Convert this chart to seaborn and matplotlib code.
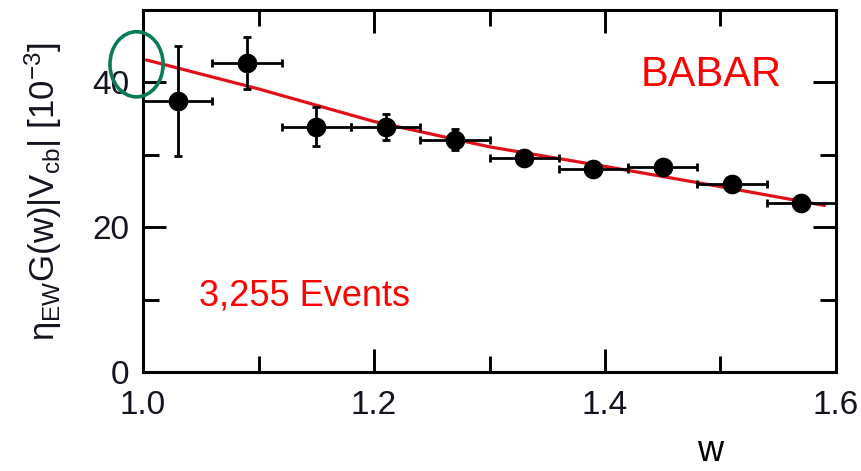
import matplotlib
matplotlib.use("Agg")
import matplotlib.pyplot as plt
from matplotlib.patches import Ellipse
from matplotlib.ticker import MultipleLocator
import seaborn as sns
import pandas as pd

# Measured points: bin centres in w, values and uncertainties
w_centers = [1.03, 1.09, 1.15, 1.21, 1.27, 1.33, 1.39, 1.45, 1.51, 1.57]
w_halfwidth = [0.03, 0.03, 0.03, 0.03, 0.03, 0.03, 0.03, 0.03, 0.03, 0.03]
g_values = [37.4, 42.7, 33.9, 33.9, 32.1, 29.5, 28.1, 28.3, 26.0, 23.4]
g_errors = [7.6, 3.6, 2.7, 1.8, 1.5, 0.9, 0.8, 0.8, 0.8, 0.7]

# Fitted form-factor curve
fit_w = [1.003, 1.1, 1.2, 1.3, 1.4, 1.5, 1.59]
fit_g = [43.1, 39.1, 34.6, 31.1, 28.4, 25.6, 23.0]

x_ticks = [1.0, 1.2, 1.4, 1.6]
x_tick_labels = ["1.0", "1.2", "1.4", "1.6"]
y_ticks = [0, 20, 40]
y_tick_labels = ["0", "20", "40"]

sns.set_theme(style="ticks")
plt.rcParams["font.family"] = ["Liberation Sans", "DejaVu Sans"]
plt.rcParams["mathtext.fontset"] = "custom"
plt.rcParams["mathtext.rm"] = "Liberation Sans"
plt.rcParams["mathtext.it"] = "Liberation Sans"
plt.rcParams["mathtext.bf"] = "Liberation Sans:bold"

data = pd.DataFrame({"w": w_centers, "g": g_values})
fit = pd.DataFrame({"w": fit_w, "g": fit_g})

fig = plt.figure(figsize=(8.62, 4.71), dpi=100)
ax = fig.add_axes([143 / 862, 99 / 471, 693 / 862, 362 / 471])

sns.lineplot(data=fit, x="w", y="g", ax=ax, color="#e0101a", lw=2.3,
             zorder=2, sort=False)
ax.errorbar(w_centers, g_values, xerr=w_halfwidth, yerr=g_errors, fmt="none",
            ecolor="black", elinewidth=2.0, capsize=3, capthick=2.0, zorder=3)
sns.scatterplot(data=data, x="w", y="g", ax=ax, color="black", s=200,
                edgecolor="black", linewidth=0, zorder=4)

ax.set_xlim(1.0, 1.6)
ax.set_ylim(0, 50)
ax.set_xticks(x_ticks)
ax.set_xticklabels(x_tick_labels)
ax.set_yticks(y_ticks)
ax.set_yticklabels(y_tick_labels)
ax.xaxis.set_minor_locator(MultipleLocator(0.1))
ax.yaxis.set_minor_locator(MultipleLocator(10))

ax.tick_params(which="both", direction="in", top=True, right=True,
               width=2.1, color="black", labelsize=24, labelcolor="#141420")
ax.tick_params(which="major", length=16.5)
ax.tick_params(which="minor", length=11.5)
ax.tick_params(axis="x", which="major", pad=13)
ax.tick_params(axis="y", which="major", pad=10)

for side in ["left", "right", "top", "bottom"]:
    ax.spines[side].set_visible(True)
    ax.spines[side].set_linewidth(2.2)
    ax.spines[side].set_color("black")

ax.set_ylabel(r"$\eta_{EW}$G(w)|V$_{cb}$| [10$^{-3}$]", fontsize=25,
              color="#141420", labelpad=20)
ax.set_xlabel("w", fontsize=26, color="black", va="baseline")
ax.xaxis.set_label_coords(0.818, -0.245)

ax.text(0.8196, 0.79, "BABAR", transform=ax.transAxes, fontsize=30,
        color="#ff0000", ha="center", va="baseline")
ax.text(0.081, 0.185, "3,255 Events", transform=ax.transAxes, fontsize=26,
        color="#ff0000", ha="left", va="baseline")

# Highlight ring around the curve's intercept at w = 1
ax.add_patch(Ellipse((0.9944, 42.5), width=0.046, height=9.0, fill=False,
                     edgecolor="#0b7a57", lw=2.6, clip_on=False, zorder=6))

fig.savefig("out.png", dpi=100)
